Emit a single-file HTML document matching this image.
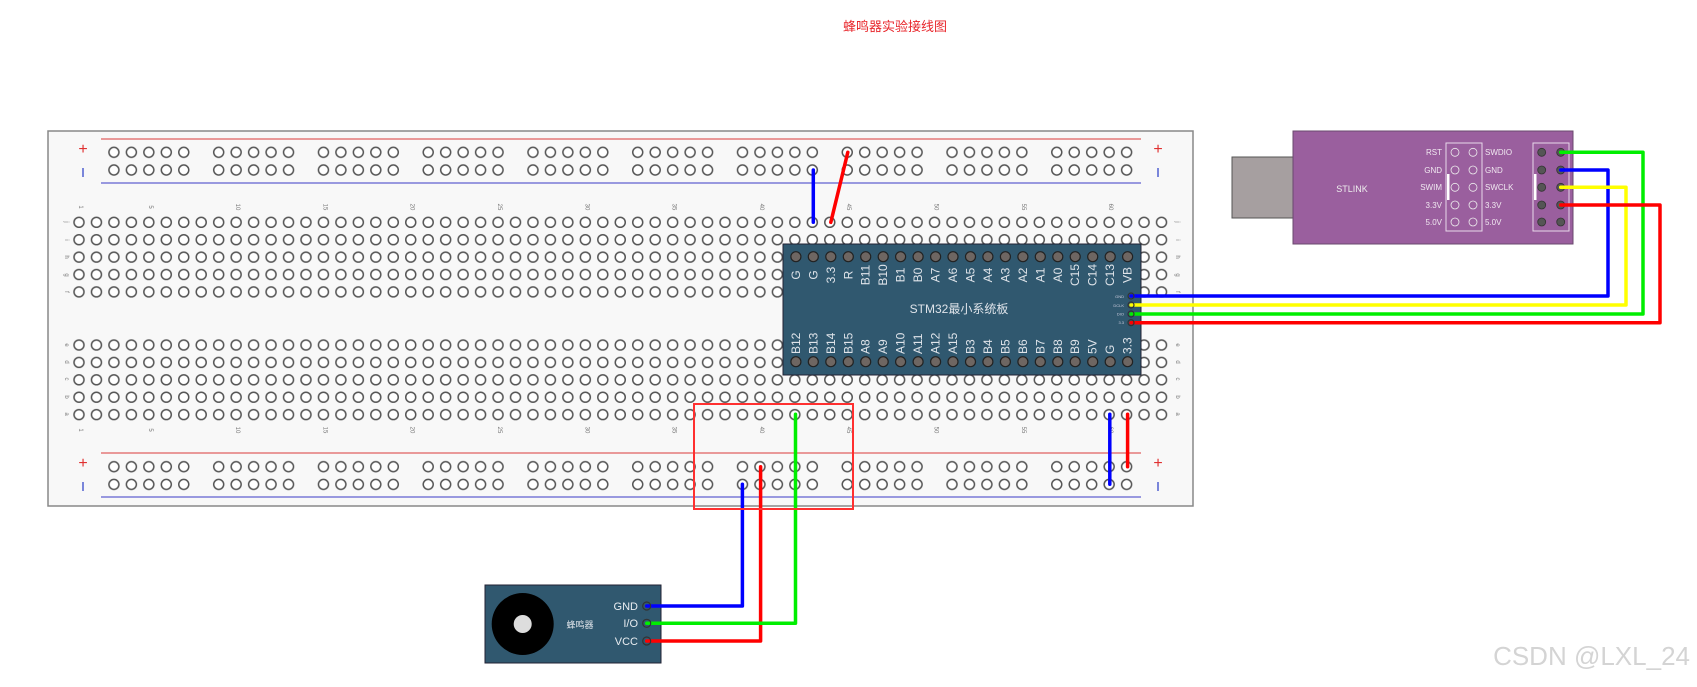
<!DOCTYPE html>
<html><head><meta charset="utf-8"><style>
html,body{margin:0;padding:0;background:#fff;width:1697px;height:687px;overflow:hidden}
svg{display:block}
</style></head><body>
<svg width="1697" height="687" viewBox="0 0 1697 687" xmlns="http://www.w3.org/2000/svg" font-family="Liberation Sans, DejaVu Sans, sans-serif">
<defs>
<pattern id="gridT" patternUnits="userSpaceOnUse" x="70.27" y="213.6" width="17.46" height="17.4">
<circle cx="8.73" cy="8.7" r="5" fill="#fff" stroke="#555" stroke-width="1.5"/>
</pattern>
<pattern id="gridB" patternUnits="userSpaceOnUse" x="70.27" y="336.3" width="17.46" height="17.4">
<circle cx="8.73" cy="8.7" r="5" fill="#fff" stroke="#555" stroke-width="1.5"/>
</pattern>
<pattern id="railT" patternUnits="userSpaceOnUse" x="105.2" y="143.45" width="104.76" height="17.7">
<circle cx="8.73" cy="8.85" r="5" fill="#fff" stroke="#555" stroke-width="1.5"/>
<circle cx="26.19" cy="8.85" r="5" fill="#fff" stroke="#555" stroke-width="1.5"/>
<circle cx="43.65" cy="8.85" r="5" fill="#fff" stroke="#555" stroke-width="1.5"/>
<circle cx="61.11" cy="8.85" r="5" fill="#fff" stroke="#555" stroke-width="1.5"/>
<circle cx="78.57" cy="8.85" r="5" fill="#fff" stroke="#555" stroke-width="1.5"/>
</pattern>
<pattern id="railB" patternUnits="userSpaceOnUse" x="105.2" y="457.85" width="104.76" height="17.7">
<circle cx="8.73" cy="8.85" r="5" fill="#fff" stroke="#555" stroke-width="1.5"/>
<circle cx="26.19" cy="8.85" r="5" fill="#fff" stroke="#555" stroke-width="1.5"/>
<circle cx="43.65" cy="8.85" r="5" fill="#fff" stroke="#555" stroke-width="1.5"/>
<circle cx="61.11" cy="8.85" r="5" fill="#fff" stroke="#555" stroke-width="1.5"/>
<circle cx="78.57" cy="8.85" r="5" fill="#fff" stroke="#555" stroke-width="1.5"/>
</pattern>
</defs>

<text x="895" y="31" font-size="13" fill="#e8262b" text-anchor="middle" font-family="Liberation Sans, Noto Sans CJK SC, sans-serif">蜂鸣器实验接线图</text>

<!-- breadboard -->
<rect x="48" y="131" width="1145" height="375" fill="#f8f8f8" stroke="#888" stroke-width="1.5"/>
<line x1="101" y1="139" x2="1141" y2="139" stroke="#e06060" stroke-width="1.2"/>
<line x1="101" y1="183" x2="1141" y2="183" stroke="#6060d0" stroke-width="1.2"/>
<line x1="101" y1="453" x2="1141" y2="453" stroke="#e06060" stroke-width="1.2"/>
<line x1="101" y1="497" x2="1141" y2="497" stroke="#6060d0" stroke-width="1.2"/>
<g font-size="16" text-anchor="middle">
<text x="83" y="154" fill="#e03030">+</text>
<text x="1158" y="154" fill="#e03030">+</text>
<text x="83" y="468" fill="#e03030">+</text>
<text x="1158" y="468" fill="#e03030">+</text>
</g>
<g stroke="#5060d0" stroke-width="1.5">
<line x1="83" y1="168" x2="83" y2="177"/><line x1="1158" y1="168" x2="1158" y2="177"/>
<line x1="83" y1="482" x2="83" y2="491"/><line x1="1158" y1="482" x2="1158" y2="491"/>
</g>
<rect x="105.2" y="143.45" width="1047.6" height="35.4" fill="url(#railT)"/>
<rect x="105.2" y="457.85" width="1047.6" height="35.4" fill="url(#railB)"/>
<rect x="70.27" y="213.6" width="1100" height="87" fill="url(#gridT)"/>
<rect x="70.27" y="336.3" width="1100" height="87" fill="url(#gridB)"/>

<g font-size="6" fill="#777" text-anchor="middle">
<text transform="translate(79,207) rotate(90)">1</text>
<text transform="translate(148.8,207) rotate(90)">5</text>
<text transform="translate(236.1,207) rotate(90)">10</text>
<text transform="translate(323.4,207) rotate(90)">15</text>
<text transform="translate(410.7,207) rotate(90)">20</text>
<text transform="translate(498,207) rotate(90)">25</text>
<text transform="translate(585.3,207) rotate(90)">30</text>
<text transform="translate(672.6,207) rotate(90)">35</text>
<text transform="translate(759.9,207) rotate(90)">40</text>
<text transform="translate(847.2,207) rotate(90)">45</text>
<text transform="translate(934.5,207) rotate(90)">50</text>
<text transform="translate(1021.8,207) rotate(90)">55</text>
<text transform="translate(1109.1,207) rotate(90)">60</text>
<text transform="translate(79,430) rotate(90)">1</text>
<text transform="translate(148.8,430) rotate(90)">5</text>
<text transform="translate(236.1,430) rotate(90)">10</text>
<text transform="translate(323.4,430) rotate(90)">15</text>
<text transform="translate(410.7,430) rotate(90)">20</text>
<text transform="translate(498,430) rotate(90)">25</text>
<text transform="translate(585.3,430) rotate(90)">30</text>
<text transform="translate(672.6,430) rotate(90)">35</text>
<text transform="translate(759.9,430) rotate(90)">40</text>
<text transform="translate(847.2,430) rotate(90)">45</text>
<text transform="translate(934.5,430) rotate(90)">50</text>
<text transform="translate(1021.8,430) rotate(90)">55</text>
<text transform="translate(1109.1,430) rotate(90)">60</text>
</g>
<g font-size="6" fill="#777" text-anchor="middle">
<text transform="translate(65,222) rotate(90)">j</text><text transform="translate(65,240) rotate(90)">i</text><text transform="translate(65,257) rotate(90)">h</text><text transform="translate(65,275) rotate(90)">g</text><text transform="translate(65,292) rotate(90)">f</text>
<text transform="translate(65,345) rotate(90)">e</text><text transform="translate(65,362) rotate(90)">d</text><text transform="translate(65,379) rotate(90)">c</text><text transform="translate(65,397) rotate(90)">b</text><text transform="translate(65,414) rotate(90)">a</text>
<text transform="translate(1176,222) rotate(90)">j</text><text transform="translate(1176,240) rotate(90)">i</text><text transform="translate(1176,257) rotate(90)">h</text><text transform="translate(1176,275) rotate(90)">g</text><text transform="translate(1176,292) rotate(90)">f</text>
<text transform="translate(1176,345) rotate(90)">e</text><text transform="translate(1176,362) rotate(90)">d</text><text transform="translate(1176,379) rotate(90)">c</text><text transform="translate(1176,397) rotate(90)">b</text><text transform="translate(1176,414) rotate(90)">a</text>
</g>

<!-- STM32 board -->
<rect x="783" y="244" width="358" height="131" fill="#30586f" stroke="#223"/>
<g fill="#6e6662" stroke="#222" stroke-width="1.2">
<circle cx="795.9" cy="256.7" r="5"/><circle cx="813.3" cy="256.7" r="5"/><circle cx="830.8" cy="256.7" r="5"/><circle cx="848.3" cy="256.7" r="5"/><circle cx="865.7" cy="256.7" r="5"/><circle cx="883.2" cy="256.7" r="5"/><circle cx="900.6" cy="256.7" r="5"/><circle cx="918.1" cy="256.7" r="5"/><circle cx="935.6" cy="256.7" r="5"/><circle cx="953" cy="256.7" r="5"/><circle cx="970.5" cy="256.7" r="5"/><circle cx="987.9" cy="256.7" r="5"/><circle cx="1005.4" cy="256.7" r="5"/><circle cx="1022.9" cy="256.7" r="5"/><circle cx="1040.3" cy="256.7" r="5"/><circle cx="1057.8" cy="256.7" r="5"/><circle cx="1075.2" cy="256.7" r="5"/><circle cx="1092.7" cy="256.7" r="5"/><circle cx="1110.2" cy="256.7" r="5"/><circle cx="1127.6" cy="256.7" r="5"/>
<circle cx="795.9" cy="361.7" r="5"/><circle cx="813.3" cy="361.7" r="5"/><circle cx="830.8" cy="361.7" r="5"/><circle cx="848.3" cy="361.7" r="5"/><circle cx="865.7" cy="361.7" r="5"/><circle cx="883.2" cy="361.7" r="5"/><circle cx="900.6" cy="361.7" r="5"/><circle cx="918.1" cy="361.7" r="5"/><circle cx="935.6" cy="361.7" r="5"/><circle cx="953" cy="361.7" r="5"/><circle cx="970.5" cy="361.7" r="5"/><circle cx="987.9" cy="361.7" r="5"/><circle cx="1005.4" cy="361.7" r="5"/><circle cx="1022.9" cy="361.7" r="5"/><circle cx="1040.3" cy="361.7" r="5"/><circle cx="1057.8" cy="361.7" r="5"/><circle cx="1075.2" cy="361.7" r="5"/><circle cx="1092.7" cy="361.7" r="5"/><circle cx="1110.2" cy="361.7" r="5"/><circle cx="1127.6" cy="361.7" r="5"/>
</g>
<g font-size="12" fill="#dfe4ea" text-anchor="middle" dominant-baseline="central">
<text transform="translate(795.9,275) rotate(-90)">G</text><text transform="translate(813.3,275) rotate(-90)">G</text><text transform="translate(830.8,275) rotate(-90)">3.3</text><text transform="translate(848.3,275) rotate(-90)">R</text><text transform="translate(865.7,275) rotate(-90)">B11</text><text transform="translate(883.2,275) rotate(-90)">B10</text><text transform="translate(900.6,275) rotate(-90)">B1</text><text transform="translate(918.1,275) rotate(-90)">B0</text><text transform="translate(935.6,275) rotate(-90)">A7</text><text transform="translate(953,275) rotate(-90)">A6</text><text transform="translate(970.5,275) rotate(-90)">A5</text><text transform="translate(987.9,275) rotate(-90)">A4</text><text transform="translate(1005.4,275) rotate(-90)">A3</text><text transform="translate(1022.9,275) rotate(-90)">A2</text><text transform="translate(1040.3,275) rotate(-90)">A1</text><text transform="translate(1057.8,275) rotate(-90)">A0</text><text transform="translate(1075.2,275) rotate(-90)">C15</text><text transform="translate(1092.7,275) rotate(-90)">C14</text><text transform="translate(1110.2,275) rotate(-90)">C13</text><text transform="translate(1127.6,275) rotate(-90)">VB</text>
</g>
<g font-size="12" fill="#dfe4ea" text-anchor="start" dominant-baseline="central">
<text transform="translate(795.9,354) rotate(-90)">B12</text><text transform="translate(813.3,354) rotate(-90)">B13</text><text transform="translate(830.8,354) rotate(-90)">B14</text><text transform="translate(848.3,354) rotate(-90)">B15</text><text transform="translate(865.7,354) rotate(-90)">A8</text><text transform="translate(883.2,354) rotate(-90)">A9</text><text transform="translate(900.6,354) rotate(-90)">A10</text><text transform="translate(918.1,354) rotate(-90)">A11</text><text transform="translate(935.6,354) rotate(-90)">A12</text><text transform="translate(953,354) rotate(-90)">A15</text><text transform="translate(970.5,354) rotate(-90)">B3</text><text transform="translate(987.9,354) rotate(-90)">B4</text><text transform="translate(1005.4,354) rotate(-90)">B5</text><text transform="translate(1022.9,354) rotate(-90)">B6</text><text transform="translate(1040.3,354) rotate(-90)">B7</text><text transform="translate(1057.8,354) rotate(-90)">B8</text><text transform="translate(1075.2,354) rotate(-90)">B9</text><text transform="translate(1092.7,354) rotate(-90)">5V</text><text transform="translate(1110.2,354) rotate(-90)">G</text><text transform="translate(1127.6,354) rotate(-90)">3.3</text>
</g>
<text x="959" y="313" font-size="12" fill="#dfe4ea" text-anchor="middle" font-family="Liberation Sans, Noto Sans CJK SC, sans-serif">STM32最小系统板</text>
<g font-size="4" fill="#ccd" text-anchor="end">
<text x="1124" y="298">GND</text><text x="1124" y="307">DCLK</text><text x="1124" y="315.5">DIO</text><text x="1124" y="324">3.3</text>
</g>

<!-- STLINK -->
<rect x="1232" y="157" width="62" height="61" fill="#a69fa0" stroke="#555"/>
<rect x="1293" y="131" width="280" height="113" fill="#9a5f9e" stroke="#6a4a6e"/>
<text x="1352" y="192" font-size="9" fill="#eee" text-anchor="middle">STLINK</text>
<rect x="1446" y="143" width="36" height="88" fill="none" stroke="#e8d8ea" stroke-width="1"/>
<rect x="1447" y="174" width="2.5" height="26" fill="#fff"/>
<g fill="none" stroke="#eee" stroke-width="0.8">
<circle cx="1455" cy="152.3" r="4"/><circle cx="1473" cy="152.3" r="4"/>
<circle cx="1455" cy="170" r="4"/><circle cx="1473" cy="170" r="4"/>
<circle cx="1455" cy="187.3" r="4"/><circle cx="1473" cy="187.3" r="4"/>
<circle cx="1455" cy="205" r="4"/><circle cx="1473" cy="205" r="4"/>
<circle cx="1455" cy="222" r="4"/><circle cx="1473" cy="222" r="4"/>
</g>
<g font-size="8" fill="#f0e8f0" text-anchor="end">
<text x="1442" y="155">RST</text><text x="1442" y="173">GND</text><text x="1442" y="190">SWIM</text><text x="1442" y="208">3.3V</text><text x="1442" y="225">5.0V</text>
</g>
<g font-size="8" fill="#f0e8f0" text-anchor="start">
<text x="1485" y="155">SWDIO</text><text x="1485" y="173">GND</text><text x="1485" y="190">SWCLK</text><text x="1485" y="208">3.3V</text><text x="1485" y="225">5.0V</text>
</g>
<rect x="1533" y="143" width="36" height="88" fill="none" stroke="#e8d8ea" stroke-width="1"/>
<rect x="1534" y="174" width="2.5" height="26" fill="#fff"/>
<g fill="#555" stroke="#333" stroke-width="0.8">
<circle cx="1541.7" cy="152.3" r="4"/><circle cx="1560.7" cy="152.3" r="4"/>
<circle cx="1541.7" cy="170" r="4"/><circle cx="1560.7" cy="170" r="4"/>
<circle cx="1541.7" cy="187.3" r="4"/><circle cx="1560.7" cy="187.3" r="4"/>
<circle cx="1541.7" cy="205" r="4"/><circle cx="1560.7" cy="205" r="4"/>
<circle cx="1541.7" cy="222" r="4"/><circle cx="1560.7" cy="222" r="4"/>
</g>

<!-- buzzer -->
<rect x="485" y="585" width="176" height="78" fill="#30586f" stroke="#223"/>
<circle cx="522.7" cy="624" r="31" fill="#000"/>
<circle cx="522.7" cy="624" r="9" fill="#ddd"/>
<text x="580" y="628" font-size="9" fill="#dfe4ea" text-anchor="middle" font-family="Liberation Sans, Noto Sans CJK SC, sans-serif">蜂鸣器</text>
<g font-size="11" fill="#e8ecf0" text-anchor="end">
<text x="638" y="610">GND</text><text x="638" y="627">I/O</text><text x="638" y="645">VCC</text>
</g>

<!-- wires -->
<g fill="none" stroke-width="3.5" stroke-linejoin="round" stroke-linecap="round">
<polyline points="813.3,170 813.3,222.3" stroke="#0000ff"/>
<polyline points="847.8,152.3 830.8,222.3" stroke="#ff0000"/>
<polyline points="1109.8,414.3 1109.8,484.3" stroke="#0000ff"/>
<polyline points="1127.6,414.3 1127.6,466.7" stroke="#ff0000"/>
<polyline points="646.7,606 742.4,606 742.4,484.3" stroke="#0000ff"/>
<polyline points="646.7,641 760.6,641 760.6,466.7" stroke="#ff0000"/>
<polyline points="646.7,623.3 795.5,623.3 795.5,414.3" stroke="#00ee00"/>
<polyline points="1131,296 1608,296 1608,170 1560.7,170" stroke="#0000ff"/>
<polyline points="1131,305 1626,305 1626,187.3 1560.7,187.3" stroke="#ffff00"/>
<polyline points="1131,314 1643,314 1643,152.3 1560.7,152.3" stroke="#00ee00"/>
<polyline points="1131,322.7 1660,322.7 1660,205 1560.7,205" stroke="#ff0000"/>
</g>
<g fill="none" stroke="#333" stroke-width="1.2">
<circle cx="646.7" cy="606" r="4"/><circle cx="646.7" cy="623.3" r="4"/><circle cx="646.7" cy="641" r="4"/>
<circle cx="1131" cy="296" r="3"/><circle cx="1131" cy="305" r="3"/><circle cx="1131" cy="314" r="3"/><circle cx="1131" cy="322.7" r="3"/>
</g>
<rect x="694" y="404" width="159" height="105" fill="none" stroke="#ff3030" stroke-width="2"/>

<text x="1690" y="665" font-size="26" fill="#d4d4d4" text-anchor="end">CSDN @LXL_24</text>
</svg>
</body></html>
